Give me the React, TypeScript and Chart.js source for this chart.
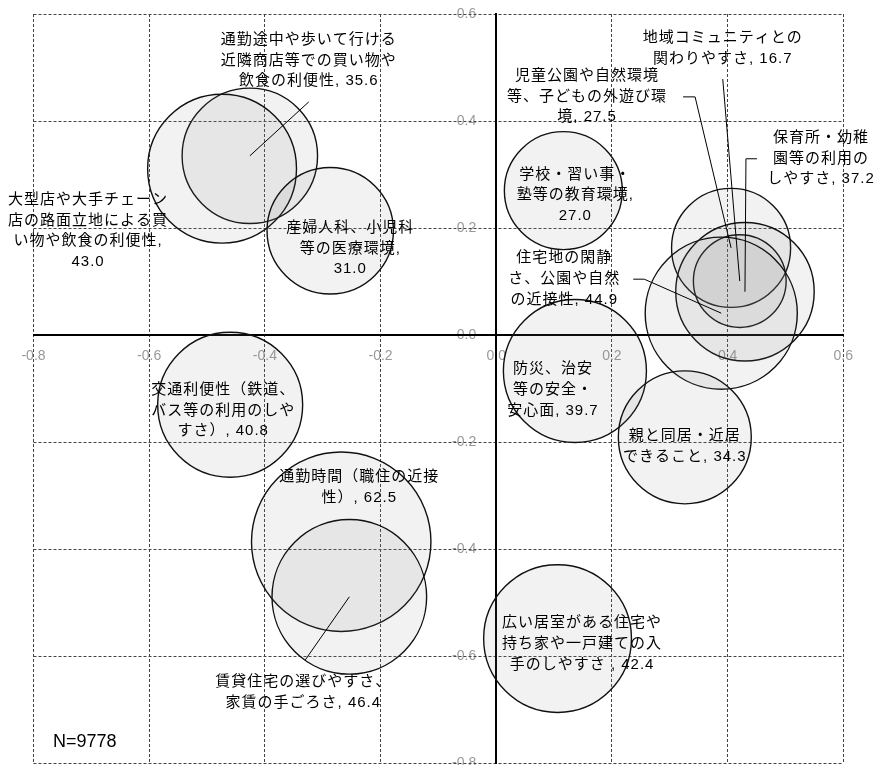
import React, { useEffect, useRef } from "react";
import { Chart, registerables } from "chart.js";

Chart.register(...registerables);

// ---------------- data ----------------
const categories = [
  "通勤途中や歩いて行ける近隣商店等での買い物や飲食の利便性",
  "大型店や大手チェーン店の路面立地による買い物や飲食の利便性",
  "産婦人科、小児科等の医療環境",
  "学校・習い事・塾等の教育環境",
  "児童公園や自然環境等、子どもの外遊び環境",
  "地域コミュニティとの関わりやすさ",
  "保育所・幼稚園等の利用のしやすさ",
  "住宅地の閑静さ、公園や自然の近接性",
  "防災、治安等の安全・安心面",
  "親と同居・近居できること",
  "広い居室がある住宅や持ち家や一戸建ての入手のしやすさ ",
  "交通利便性（鉄道、バス等の利用のしやすさ）",
  "通勤時間（職住の近接性）",
  "賃貸住宅の選びやすさ、家賃の手ごろさ",
];
const xValues = [-0.426, -0.474, -0.287, 0.116, 0.406, 0.421, 0.430, 0.389, 0.136, 0.326, 0.106, -0.460, -0.268, -0.254];
const yValues = [0.335, 0.311, 0.195, 0.270, 0.163, 0.101, 0.081, 0.041, -0.067, -0.191, -0.567, -0.130, -0.386, -0.489];
const sizes = [35.6, 43.0, 31.0, 27.0, 27.5, 16.7, 37.2, 44.9, 39.7, 34.3, 42.4, 40.8, 62.5, 46.4];

const axisMin = -0.8;
const axisMax = 0.6;
const axisStep = 0.2;
const sampleNote = "N=9778";

// ---------------- layout / style ----------------
const W = 875;
const H = 765;
const RADIUS_K = 11.35;
const LABEL_FONT = '15px "Liberation Sans", "Noto Sans CJK JP", sans-serif';
const TICK_FONT = '14px "Liberation Sans", sans-serif';
const LINE_H = 20.7;

// characters per line before the last line
const labelBreaks: number[][] = [
  [11, 11], [10, 10, 10], [8, 7], [7, 8], [9, 10], [10], [6, 6],
  [6, 7], [5, 5], [7], [10, 10], [9, 9], [10], [11],
];
// first-line centre offset from bubble centre, px
const labelOffsets: number[][] = [
  [59, -116], [-134, 31], [20, -3], [12, -16], [-144, -172], [-17, -243], [76, -154],
  [-157, -55], [-22, -2], [0, -1], [24.5, -15.5], [-7, -15], [18, -65], [-46, 85],
];
// leader line points relative to bubble centre (ends at centre)
const leaders: (number[][] | null)[] = [
  [[59, -54]], null, null, null, [[-48, -151], [-36, -151]], [[-17, -202]], [[12, -133], [1, -133]],
  [[-88, -34], [-77, -34]], null, null, null, null, null, [[-44, 63]],
];

function fmtTick(v: number) {
  const n = Math.abs(v) < 1e-9 ? 0 : v;
  return n.toFixed(1);
}

function labelLines(i: number): string[] {
  const full = `${categories[i]}, ${sizes[i].toFixed(1)}`;
  const chars = Array.from(full);
  const out: string[] = [];
  let pos = 0;
  for (const n of labelBreaks[i]) {
    out.push(chars.slice(pos, pos + n).join("").trim());
    pos += n;
  }
  out.push(chars.slice(pos).join("").trim());
  return out;
}

const yTickPlugin = {
  id: "yTickLabels",
  beforeDraw(chart: any) {
    const ctx = chart.ctx;
    const ys = chart.scales.y;
    const xs = chart.scales.x;
    const ax = xs.getPixelForValue(0);
    ctx.save();
    ctx.font = TICK_FONT;
    ctx.fillStyle = "#999";
    ctx.textAlign = "right";
    ctx.textBaseline = "middle";
    ys.ticks.forEach((t: any) => {
      ctx.fillText(fmtTick(t.value), ax - 20, ys.getPixelForValue(t.value));
    });
    ctx.restore();
  },
};

const labelPlugin = {
  id: "bubbleLabels",
  afterDatasetsDraw(chart: any) {
    const ctx = chart.ctx;
    const meta = chart.getDatasetMeta(0);
    ctx.save();
    meta.data.forEach((el: any, i: number) => {
      const cx = el.x;
      const cy = el.y;
      const pts = leaders[i];
      if (pts) {
        ctx.beginPath();
        ctx.moveTo(cx + pts[0][0], cy + pts[0][1]);
        for (let k = 1; k < pts.length; k++) ctx.lineTo(cx + pts[k][0], cy + pts[k][1]);
        ctx.lineTo(cx, cy);
        ctx.strokeStyle = "#000";
        ctx.lineWidth = 1;
        ctx.stroke();
      }
      ctx.font = LABEL_FONT;
      (ctx as any).letterSpacing = "1px";
      ctx.fillStyle = "#000";
      ctx.textAlign = "center";
      ctx.textBaseline = "middle";
      const lines = labelLines(i);
      const off = labelOffsets[i];
      lines.forEach((ln, k) => ctx.fillText(ln, cx + off[0], cy + off[1] + k * LINE_H));
    });
    (ctx as any).letterSpacing = "0px";
    ctx.font = '18px "Liberation Sans", sans-serif';
    ctx.fillStyle = "#000";
    ctx.textAlign = "left";
    ctx.textBaseline = "middle";
    ctx.fillText(sampleNote, chart.chartArea.left + 19.5, chart.chartArea.bottom - 21.6);
    ctx.restore();
  },
};

export default function App() {
  const ref = useRef<HTMLCanvasElement | null>(null);

  useEffect(() => {
    if (!ref.current) return;
    const data = xValues.map((x, i) => ({ x, y: yValues[i], r: RADIUS_K * Math.sqrt(sizes[i]) }));
    const zeroPad = (s: any) => {
      s.paddingLeft = 0;
      s.paddingRight = 0;
      s.paddingTop = 0;
      s.paddingBottom = 0;
    };
    const chart = new Chart(ref.current, {
      type: "bubble",
      data: {
        datasets: [
          {
            label: "bubbles",
            data,
            backgroundColor: "rgba(128,128,128,0.1)",
            borderColor: "#111",
            borderWidth: 1.4,
            hoverBorderWidth: 1.4,
          } as any,
        ],
      },
      options: {
        responsive: false,
        animation: false,
        devicePixelRatio: 1,
        events: [],
        layout: { autoPadding: false, padding: { left: 33.5, right: 31.7, top: 14, bottom: 1.7 } },
        plugins: { legend: { display: false }, tooltip: { enabled: false } },
        scales: {
          x: {
            type: "linear",
            min: axisMin,
            max: axisMax,
            position: { y: 0 } as any,
            afterFit: (s: any) => {
              s.height = 0;
              zeroPad(s);
            },
            ticks: {
              stepSize: axisStep,
              color: "#999",
              font: { family: '"Liberation Sans", sans-serif', size: 14 },
              padding: 13,
              maxRotation: 0,
              autoSkip: false,
              callback: (v: any) => fmtTick(Number(v)),
            },
            grid: { color: "#444", lineWidth: 1, drawTicks: false },
            border: { display: true, color: "#000", width: 2, dash: [3, 2] },
          },
          y: {
            type: "linear",
            min: axisMin,
            max: axisMax,
            position: { x: 0 } as any,
            afterFit: (s: any) => {
              s.width = 0;
              zeroPad(s);
            },
            ticks: { stepSize: axisStep, display: false },
            grid: { color: "#444", lineWidth: 1, drawTicks: false },
            border: { display: true, color: "#000", width: 2, dash: [3, 2] },
          },
        },
      },
      plugins: [yTickPlugin, labelPlugin],
    });
    return () => chart.destroy();
  }, []);

  return (
    <div style={{ position: "absolute", left: 0, top: 0, width: W, height: H, background: "#fff" }}>
      <canvas ref={ref} width={W} height={H} style={{ display: "block" }} />
    </div>
  );
}
